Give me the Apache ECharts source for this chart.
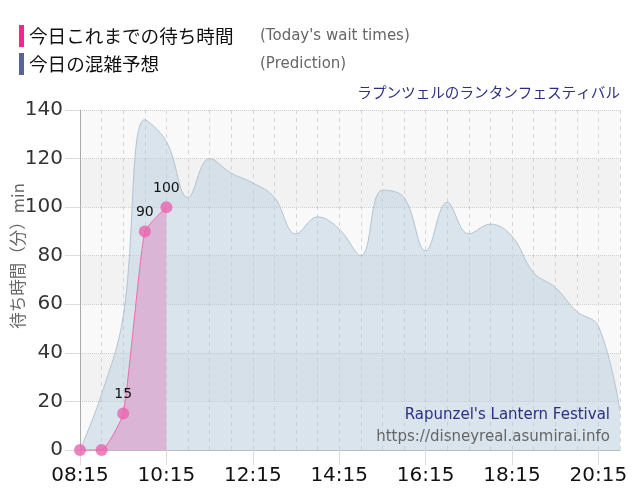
<!DOCTYPE html>
<html>
<head>
<meta charset="utf-8">
<script src="https://cdn.jsdelivr.net/npm/echarts@6/dist/echarts.min.js"></script>
<style>html,body{margin:0;padding:0;background:#fff}#c{width:640px;height:500px}</style>
</head>
<body>
<div id="c"></div>
<script>
var times = ['08:15','08:45','09:15','09:45','10:15','10:45','11:15','11:45','12:15','12:45','13:15','13:45','14:15','14:45','15:15','15:45','16:15','16:45','17:15','17:45','18:15','18:45','19:15','19:45','20:15','20:45'];
var todayWait = [0, 0, 15, 90, 100];
var prediction = [0, 23, 55, 136, 127, 104, 120, 114, 110, 104, 89, 96, 91, 80, 107, 104, 82, 102, 89, 93, 88, 73, 67, 57, 51, 16];
var yTicks = [0, 20, 40, 60, 80, 100, 120, 140];
var seriesNames = ['今日これまでの待ち時間', '今日の混雑予想'];
var seriesEnglish = ['(Today\'s wait times)', '(Prediction)'];
var titleText = 'ラプンツェルのランタンフェスティバル';
var yAxisTitle = '待ち時間（分）min';
var credit1 = 'Rapunzel\'s Lantern Festival';
var credit2 = 'https://disneyreal.asumirai.info';

var FONT = '"DejaVu Sans", "Noto Sans CJK JP", sans-serif';
var JFONT = '"Noto Sans CJK JP", "DejaVu Sans", sans-serif';

var chart = echarts.init(document.getElementById('c'));
chart.setOption({
  animation: false,
  title: {
    text: titleText, right: 15, top: 80,
    textStyle: {fontSize: 14.6, fontWeight: 'normal', color: '#2b3080', fontFamily: JFONT}
  },
  legend: {
    orient: 'vertical', left: 14, top: 20, itemGap: 6,
    icon: 'rect', itemWidth: 5, itemHeight: 22,
    selectedMode: false,
    data: [
      {name: seriesNames[0], itemStyle: {color: '#f0288c'}},
      {name: seriesNames[1], itemStyle: {color: '#5a6496'}}
    ],
    formatter: function (n) {
      var i = seriesNames.indexOf(n);
      return '{a|' + n + '}{b|' + seriesEnglish[i] + '}';
    },
    textStyle: {
      rich: {
        a: {fontSize: 18.6, color: '#111', fontFamily: JFONT, width: 231},
        b: {fontSize: 15, color: '#666', fontFamily: FONT}
      }
    }
  },
  grid: {left: 80, right: 20, top: 110, bottom: 50},
  xAxis: {
    type: 'category', data: times, boundaryGap: false,
    axisLine: {show: true, lineStyle: {color: '#bbb'}},
    axisTick: {show: true, interval: 3, length: 15, lineStyle: {color: '#ddd'}},
    axisLabel: {interval: 3, fontSize: 20, color: '#111', fontFamily: FONT, margin: 16},
    splitLine: {show: true, interval: 0, lineStyle: {color: '#d6d6d6', type: [4, 4]}}
  },
  yAxis: {
    type: 'value', min: yTicks[0], max: yTicks[yTicks.length - 1], interval: 20,
    axisLine: {show: true, lineStyle: {color: '#aaa'}},
    axisTick: {show: true, length: 15, lineStyle: {color: '#ddd'}},
    axisLabel: {fontSize: 20, color: '#333', fontFamily: FONT, margin: 17},
    splitLine: {show: true, lineStyle: {color: '#cfcfcf', type: 'dotted'}},
    splitArea: {show: true, areaStyle: {color: ['#f9f9f9', '#f2f2f2']}}
  },
  graphic: [
    {type: 'text', x: 18, y: 256, rotation: Math.PI / 2,
     style: {text: yAxisTitle, fontSize: 16.5, fill: '#666', fontFamily: JFONT, align: 'center', verticalAlign: 'middle'}},
    {type: 'text', x: 610, y: 415,
     style: {text: credit1, fontSize: 15, fill: '#2b3080', fontFamily: FONT, align: 'right', verticalAlign: 'middle'}, z: 10},
    {type: 'text', x: 610, y: 437,
     style: {text: credit2, fontSize: 15, fill: '#666', fontFamily: FONT, align: 'right', verticalAlign: 'middle'}, z: 10}
  ],
  series: [
    {
      name: seriesNames[1], type: 'line', data: prediction, smooth: 0.4,
      symbol: 'none', z: 2,
      lineStyle: {color: '#b4c3d0', width: 1},
      itemStyle: {color: '#b4c3d0'},
      areaStyle: {color: 'rgba(178,202,222,0.45)', opacity: 1}
    },
    {
      name: seriesNames[0], type: 'line', data: todayWait, smooth: 0.15,
      symbol: 'circle', symbolSize: 12, z: 3,
      lineStyle: {color: '#f06aa8', width: 1},
      itemStyle: {color: 'rgba(232,100,175,0.8)'},
      areaStyle: {color: '#dab5d6', opacity: 1},
      label: {
        show: true, position: 'top', distance: 6, fontSize: 14, color: '#111', fontFamily: FONT,
        formatter: function (p) { return p.value === 0 ? '' : p.value; }
      }
    }
  ]
});
</script>
</body>
</html>
